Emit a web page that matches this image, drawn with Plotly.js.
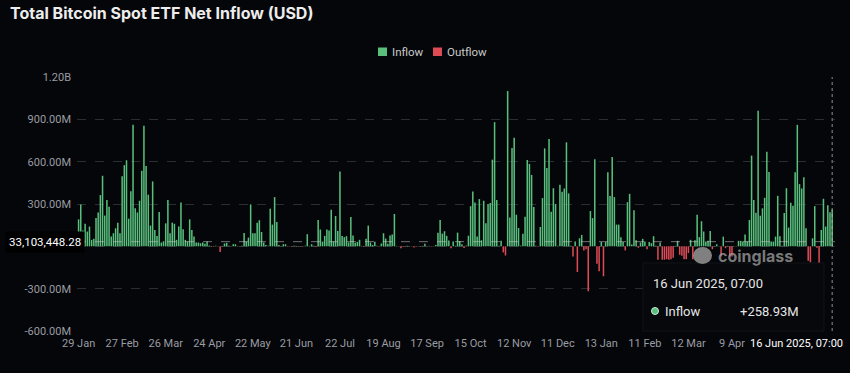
<!DOCTYPE html>
<html><head><meta charset="utf-8">
<script src="https://cdn.plot.ly/plotly-3.0.1.min.js"></script>
<style>html,body{margin:0;padding:0;background:#050609;}#chart{width:850px;height:373px;}</style>
</head><body><div id="chart"></div>
<script>
// Daily net flow, millions USD (trading days, 29 Jan 2024 -> 16 Jun 2025)
const netFlowM = [
191,297,112,160,105,140,46,53,200,240,
363,500,218,328,281,70,93,128,168,93,
497,575,610,196,391,861,269,240,323,535,
854,570,366,147,460,116,74,243,27,36,
163,328,93,168,160,46,140,311,121,46,
34,191,116,70,27,27,22,27,18,34,
5,3,-4,4,2,-40,3,20,25,4,
-3,15,15,3,-2,4,95,34,62,297,
93,93,168,185,102,27,10,5,267,154,
349,173,10,3,15,15,-3,2,-4,5,
3,-2,2,-3,4,86,3,15,4,-5,
187,119,34,74,119,112,260,34,215,108,
530,74,65,72,27,208,76,25,32,46,
3,-5,53,147,27,10,32,4,-3,20,
93,55,18,76,83,229,3,-2,-13,2,
-3,4,-2,3,-8,-3,2,-2,3,18,
-2,3,-3,2,10,97,187,90,107,74,
41,-13,34,4,97,38,15,-12,5,75,
285,389,311,69,335,43,323,163,300,307,
614,880,328,5,39,-43,-65,1100,205,697,
770,224,130,5,90,210,612,584,506,278,
4,-3,137,342,694,556,760,245,412,300,
4,436,386,410,737,375,4,-72,34,-182,
57,81,-30,-20,-318,250,200,618,-123,-177,
30,-212,30,525,356,633,349,154,154,65,
30,-29,313,372,13,255,43,-10,27,53,
34,-20,30,22,72,4,-95,27,-95,-95,
-91,-95,-91,-81,3,39,-60,-67,-91,-91,
-48,46,-91,43,224,65,178,105,34,39,
109,-20,3,15,2,-72,69,-13,3,-72,
-72,3,2,39,39,34,83,34,187,643,
328,238,960,217,269,344,671,527,34,34,
69,358,72,4,236,412,133,309,288,525,
861,441,410,490,128,-102,-114,57,285,-10,
-126,116,337,140,291,241,258.93
];
const tickLabels = ["29 Jan","27 Feb","26 Mar","24 Apr","22 May","21 Jun","22 Jul","19 Aug","17 Sep","15 Oct","12 Nov","11 Dec","13 Jan","11 Feb","12 Mar","9 Apr"];
const tickStep = 20;
const yTickVals = [-600,-300,0,300,600,900,1200];
const yTickText = ["-600.00M","-300.00M","","300.00M","600.00M","900.00M","1.20B"];
const seriesNames = ["Inflow","Outflow"];
const hoverDate = "16 Jun 2025, 07:00";
const crossValueM = 33.10344828;
const crossLabel = "33,103,448.28";

const dayIndex = netFlowM.map((_, i) => i);
const hoverIdx = netFlowM.length - 1;
const hoverVal = netFlowM[hoverIdx];
const tickVals = tickLabels.map((_, i) => i * tickStep);

const GREEN = '#58bf7d', RED = '#dd4b56';
const L = 77, R = 15, T = 77, B = 42, W = 850, H = 373;
const pw = W - L - R, ph = H - T - B;
const px2paperX = p => (p - L) / pw;
const px2paperY = p => (H - B - p) / ph;

const traces = [
  {type:'bar', name:seriesNames[0], x:dayIndex, y:netFlowM.map(v => v > 0 ? v : null),
   marker:{color:GREEN, line:{width:0}}, hoverinfo:'skip', showlegend:false},
  {type:'bar', name:seriesNames[1], x:dayIndex, y:netFlowM.map(v => v < 0 ? v : null),
   marker:{color:RED, line:{width:0}}, hoverinfo:'skip', showlegend:false}
];

const tickFont = {family:'Roboto', size:11, color:'#9a9ca3'};
const layout = {
  width:W, height:H,
  margin:{l:L, r:R, t:T, b:B, pad:0},
  paper_bgcolor:'#050609', plot_bgcolor:'#050609',
  barmode:'overlay', bargap:0.3,
  showlegend:false,
  title:{text:'Total Bitcoin Spot ETF Net Inflow (USD)', xref:'container', yref:'container', x:10/850, xanchor:'left',
         y:1-13/373, yanchor:'middle', font:{family:'Inter', size:16, weight:700, color:'#ededed'}},
  xaxis:{type:'linear', range:[-0.73, 347.3], tickmode:'array', tickvals:tickVals, ticktext:tickLabels,
         showgrid:false, zeroline:false, showline:false, ticks:'', fixedrange:true, ticklabelstandoff:4,
         tickfont:tickFont},
  yaxis:{range:[-600,1200], tickmode:'array', tickvals:yTickVals, ticktext:yTickText,
         showgrid:true, gridcolor:'#2a2d33', griddash:'dash', gridwidth:1,
         zeroline:false, showline:false, ticks:'', ticklabelstandoff:5,
         tickfont:tickFont},
  shapes:[
    {type:'line', xref:'x', yref:'paper', x0:hoverIdx, x1:hoverIdx, y0:0, y1:1,
     line:{color:'rgba(190,190,190,0.75)', width:1, dash:'dot'}},
    {type:'line', xref:'paper', yref:'y', x0:0, x1:1, y0:crossValueM, y1:crossValueM,
     line:{color:'rgba(200,200,200,0.55)', width:1, dash:'dash'}},
    {type:'rect', xref:'paper', yref:'paper', x0:px2paperX(643), x1:px2paperX(824),
     y0:px2paperY(331), y1:px2paperY(263), fillcolor:'#07080b', line:{color:'#111317', width:1}, layer:'above'},
    {type:'circle', xref:'paper', yref:'paper', x0:px2paperX(651.5), x1:px2paperX(658.5),
     y0:px2paperY(314.5), y1:px2paperY(307.5), fillcolor:GREEN, line:{color:'#cfeedd', width:1}, layer:'above'},
    {type:'circle', xref:'paper', yref:'paper', x0:px2paperX(693), x1:px2paperX(712),
     y0:px2paperY(264), y1:px2paperY(247), fillcolor:'rgba(170,170,170,0.75)', line:{width:0}, layer:'above'},
    // legend swatches
    {type:'rect', xref:'paper', yref:'paper', x0:px2paperX(378), x1:px2paperX(387),
     y0:px2paperY(56), y1:px2paperY(47.5), fillcolor:GREEN, line:{width:0}},
    {type:'rect', xref:'paper', yref:'paper', x0:px2paperX(433), x1:px2paperX(442),
     y0:px2paperY(56), y1:px2paperY(47.5), fillcolor:RED, line:{width:0}}
  ],
  annotations:[
    {xref:'paper', yref:'paper', x:px2paperX(390), y:px2paperY(51.8), xanchor:'left', yanchor:'middle', showarrow:false,
     text:seriesNames[0], font:{family:'Roboto', size:11.5, color:'#c9c9c9'}},
    {xref:'paper', yref:'paper', x:px2paperX(445), y:px2paperY(51.8), xanchor:'left', yanchor:'middle', showarrow:false,
     text:seriesNames[1], font:{family:'Roboto', size:11.5, color:'#c9c9c9'}},
    {xref:'paper', yref:'y', x:px2paperX(85), y:crossValueM, xanchor:'right', yanchor:'middle', showarrow:false,
     text:crossLabel, bgcolor:'#000000', borderpad:3, font:{family:'Roboto', size:11.5, color:'#ffffff'}},
    {xref:'paper', yref:'paper', x:px2paperX(845), y:px2paperY(343), xanchor:'right', yanchor:'middle', showarrow:false,
     text:hoverDate, bgcolor:'#050609', borderpad:1, font:{family:'Roboto', size:11, color:'#ffffff'}},
    {xref:'paper', yref:'paper', x:px2paperX(651), y:px2paperY(283.5), xanchor:'left', yanchor:'middle', showarrow:false,
     text:hoverDate, font:{family:'Roboto', size:13, color:'#e6e6e6'}},
    {xref:'paper', yref:'paper', x:px2paperX(663), y:px2paperY(311), xanchor:'left', yanchor:'middle', showarrow:false,
     text:seriesNames[0], font:{family:'Roboto', size:13, color:'#e6e6e6'}},
    {xref:'paper', yref:'paper', x:px2paperX(801), y:px2paperY(311), xanchor:'right', yanchor:'middle', showarrow:false,
     text:'+' + hoverVal.toFixed(2) + 'M', font:{family:'Roboto', size:13, color:'#e6e6e6'}},
    {xref:'paper', yref:'paper', x:px2paperX(716), y:px2paperY(255.5), xanchor:'left', yanchor:'middle', showarrow:false,
     text:'coinglass', font:{family:'Inter', size:16, weight:700, color:'rgba(160,160,160,0.75)'}}
  ]
};
Plotly.newPlot('chart', traces, layout, {displayModeBar:false, staticPlot:true});
</script></body></html>
